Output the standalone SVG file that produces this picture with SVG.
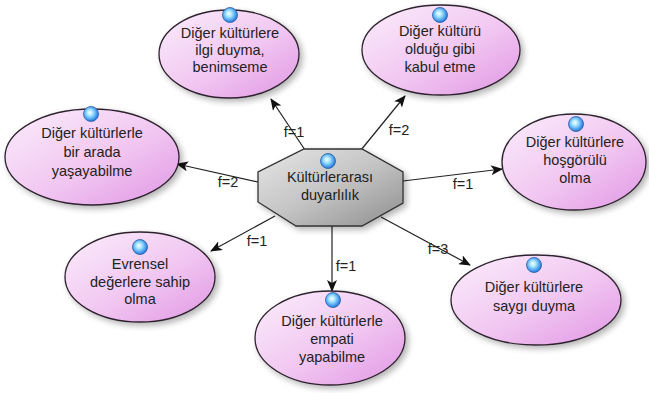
<svg xmlns="http://www.w3.org/2000/svg" width="649" height="393" viewBox="0 0 649 393">
  <defs>
    <linearGradient id="pink" x1="0" y1="0" x2="1" y2="1">
      <stop offset="0" stop-color="#fbeefb"/>
      <stop offset="0.55" stop-color="#f1c6f1"/>
      <stop offset="1" stop-color="#e096e4"/>
    </linearGradient>
    <linearGradient id="grey" x1="0" y1="0" x2="1" y2="1">
      <stop offset="0" stop-color="#e6e6e6"/>
      <stop offset="0.5" stop-color="#c4c4c4"/>
      <stop offset="1" stop-color="#8e8e8e"/>
    </linearGradient>
    <radialGradient id="ball" cx="0.45" cy="0.45" r="0.6" fx="0.42" fy="0.4">
      <stop offset="0" stop-color="#ffffff"/>
      <stop offset="0.35" stop-color="#9fe3ff"/>
      <stop offset="0.8" stop-color="#3a8ee8"/>
      <stop offset="1" stop-color="#1d5fc4"/>
    </radialGradient>
    <filter id="shadow" x="-20%" y="-20%" width="150%" height="150%">
      <feGaussianBlur in="SourceAlpha" stdDeviation="3"/>
      <feOffset dx="3" dy="3" result="b"/>
      <feComponentTransfer><feFuncA type="linear" slope="0.3"/></feComponentTransfer>
      <feMerge><feMergeNode/><feMergeNode in="SourceGraphic"/></feMerge>
    </filter>
    <marker id="arrow" viewBox="0 0 12 10" refX="11" refY="5" markerWidth="12" markerHeight="10" markerUnits="userSpaceOnUse" orient="auto">
      <path d="M0,0 L12,5 L0,10 L3,5 Z" fill="#111"/>
    </marker>
    <circle id="bead" r="7.5" fill="url(#ball)" stroke="#2a5fa8" stroke-width="0.8"/>
  </defs>
  <style>
    .oval { fill: url(#pink); stroke: #2e222e; stroke-width: 1.3; filter: url(#shadow); }
    .hub { fill: url(#grey); stroke: #333; stroke-width: 1.3; filter: url(#shadow); }
    text { font-family: "Liberation Sans", Arial, sans-serif; font-size: 14.5px; fill: #222; text-anchor: middle; }
    .edge { stroke: #222; stroke-width: 1.2; fill: none; marker-end: url(#arrow); }
  </style>
  <rect width="649" height="393" fill="#ffffff"/>

  <!-- connectors, each with its frequency label -->
  <g id="connectors">
    <line class="edge" x1="305" y1="150" x2="271" y2="99"/>
    <line class="edge" x1="361" y1="150" x2="405" y2="96"/>
    <line class="edge" x1="258" y1="182" x2="177" y2="164"/>
    <line class="edge" x1="403" y1="181" x2="502" y2="169"/>
    <line class="edge" x1="275" y1="216" x2="211" y2="251"/>
    <line class="edge" x1="332" y1="226" x2="332" y2="291"/>
    <line class="edge" x1="381" y1="217" x2="470" y2="265"/>
    <text x="294" y="137">f=1</text>
    <text x="399" y="135">f=2</text>
    <text x="228" y="187">f=2</text>
    <text x="463" y="189">f=1</text>
    <text x="257" y="246">f=1</text>
    <text x="346" y="271">f=1</text>
    <text x="438" y="254">f=3</text>
  </g>

  <!-- central node -->
  <g id="hub">
    <polygon class="hub" points="304,149 362,149 403,172 403,203 362,226 296,226 258,202 258,172"/>
    <use href="#bead" x="328" y="161"/>
    <text x="330" y="182">Kültürlerarası</text>
    <text x="330" y="200">duyarlılık</text>
  </g>

  <g id="ilgi">
    <ellipse class="oval" cx="229" cy="54" rx="70" ry="44"/>
    <use href="#bead" x="230" y="15"/>
    <text x="230" y="38">Diğer kültürlere</text>
    <text x="230" y="55">ilgi duyma,</text>
    <text x="230" y="72">benimseme</text>
  </g>

  <g id="kabul">
    <ellipse class="oval" cx="441" cy="50" rx="79" ry="45"/>
    <use href="#bead" x="440" y="15"/>
    <text x="440" y="36">Diğer kültürü</text>
    <text x="440" y="54">olduğu gibi</text>
    <text x="440" y="72">kabul etme</text>
  </g>

  <g id="arada">
    <ellipse class="oval" cx="92" cy="157" rx="87" ry="48"/>
    <use href="#bead" x="91" y="114"/>
    <text x="92" y="138">Diğer kültürlerle</text>
    <text x="92" y="157">bir arada</text>
    <text x="92" y="176">yaşayabilme</text>
  </g>

  <g id="hosgoru">
    <ellipse class="oval" cx="574" cy="162" rx="72" ry="48"/>
    <use href="#bead" x="576" y="124"/>
    <text x="575" y="147">Diğer kültürlere</text>
    <text x="575" y="165">hoşgörülü</text>
    <text x="575" y="183">olma</text>
  </g>

  <g id="evrensel">
    <ellipse class="oval" cx="140" cy="277" rx="75" ry="45"/>
    <use href="#bead" x="140" y="247"/>
    <text x="140" y="269">Evrensel</text>
    <text x="140" y="287">değerlere sahip</text>
    <text x="140" y="304">olma</text>
  </g>

  <g id="empati">
    <ellipse class="oval" cx="330" cy="338" rx="75" ry="47"/>
    <use href="#bead" x="333" y="300"/>
    <text x="332" y="326">Diğer kültürlerle</text>
    <text x="332" y="344">empati</text>
    <text x="332" y="362">yapabilme</text>
  </g>

  <g id="saygi">
    <ellipse class="oval" cx="536" cy="300" rx="85" ry="45"/>
    <use href="#bead" x="534" y="265"/>
    <text x="534" y="292">Diğer kültürlere</text>
    <text x="534" y="311">saygı duyma</text>
  </g>
</svg>
